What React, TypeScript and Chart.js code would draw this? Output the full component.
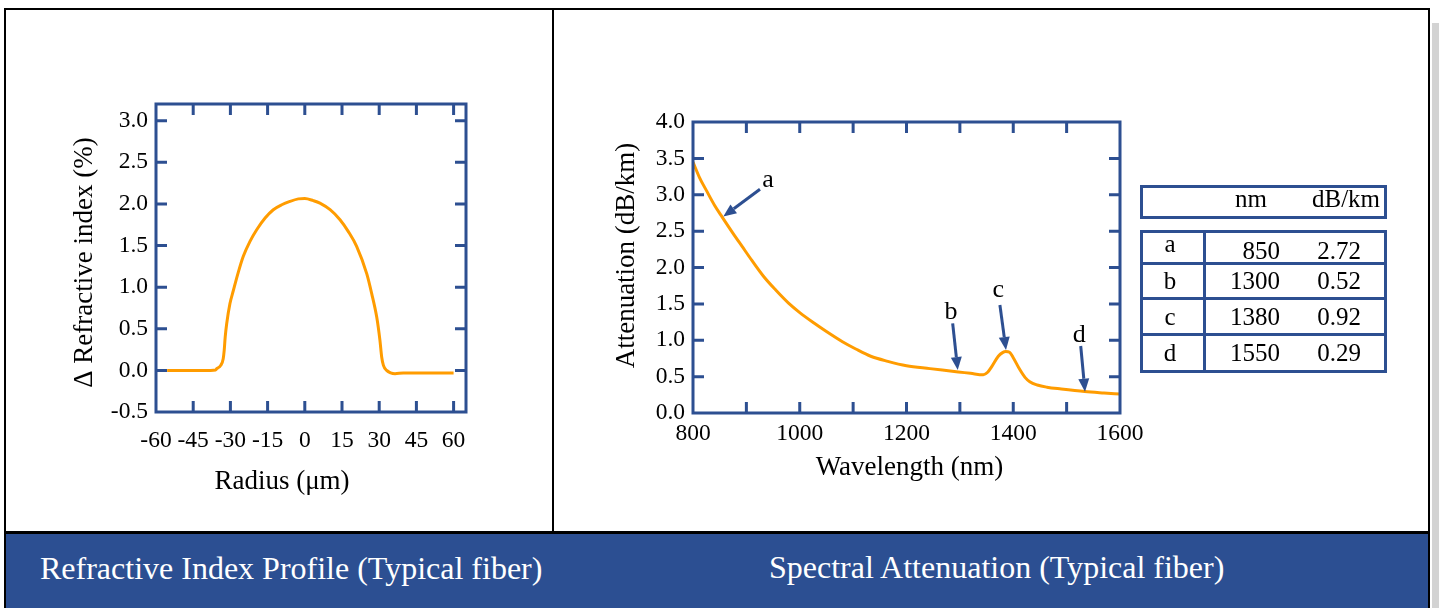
import React, { useEffect, useRef } from 'react';
import { Chart, registerables } from 'chart.js';

Chart.register(...registerables);

const FONT = "'Liberation Serif', 'Times New Roman', Times, serif";
const BLUE = '#2d4f91';
const BAND = '#2c4f92';
const ORANGE = '#ff9c00';
const TICK = 11;
const TICK_FONT = 23.5;

// ---- Refractive index profile ----
const profileRadius = [-55.5, -45, -38, -36, -35.5, -33.9, -32.9, -32.5, -32.1, -31.5, -30.2, -28.8, -26.8, -24.8, -22.1, -19.4, -16, -12.7, -9.3, -6, -2.6, 0, 3.4, 6.1, 10.2, 14.2, 17.5, 20.9, 25, 27, 29, 30.3, 31, 31.7, 33, 34.6, 36.4, 39.7, 45, 60];
const profileDelta = [0, 0, 0, 0.005, 0.02, 0.06, 0.14, 0.24, 0.4, 0.56, 0.8, 0.96, 1.18, 1.37, 1.55, 1.69, 1.83, 1.93, 1.99, 2.03, 2.06, 2.065, 2.04, 2.01, 1.93, 1.81, 1.67, 1.49, 1.16, 0.92, 0.64, 0.36, 0.16, 0.06, 0, -0.03, -0.04, -0.03, -0.03, -0.03];
const radiusTickLabels = [-60, -45, -30, -15, 0, 15, 30, 45, 60];
const radiusMarks = [-45, -30, -15, 0, 15, 30, 45, 60];
const deltaTickLabels = [-0.5, 0, 0.5, 1, 1.5, 2, 2.5, 3];
const deltaMarks = [0, 0.5, 1, 1.5, 2, 2.5, 3];

// ---- Spectral attenuation ----
const wavelengthNm = [800, 812, 825, 840, 855, 875, 892, 910, 932, 955, 979, 1000, 1026, 1050, 1080, 1105, 1133, 1165, 1200, 1244, 1267, 1297, 1320, 1344, 1352, 1360, 1372, 1380, 1386, 1393, 1400, 1412, 1422, 1431, 1445, 1463, 1490, 1534, 1570, 1600];
const attenuationDb = [3.45, 3.24, 3.06, 2.86, 2.69, 2.47, 2.29, 2.1, 1.88, 1.69, 1.51, 1.38, 1.24, 1.12, 0.98, 0.88, 0.78, 0.71, 0.65, 0.61, 0.59, 0.565, 0.545, 0.525, 0.56, 0.64, 0.78, 0.83, 0.845, 0.835, 0.76, 0.6, 0.49, 0.43, 0.385, 0.355, 0.33, 0.295, 0.275, 0.26];
const wavelengthTickLabels = [800, 1000, 1200, 1400, 1600];
const wavelengthMarks = [900, 1000, 1100, 1200, 1300, 1400, 1500];
const attenTickLabels = [0, 0.5, 1, 1.5, 2, 2.5, 3, 3.5, 4];
const attenMarks = [0.5, 1, 1.5, 2, 2.5, 3, 3.5];

// ---- Arrow annotations (data coordinates) ----
const markerKeys = ['a', 'b', 'c', 'd'];
const markerLabelNm = [940.5, 1283.4, 1372, 1523.8];
const markerLabelDb = [3.1, 1.29, 1.6, 0.98];
const arrowTailNm = [925.5, 1286.5, 1375, 1526.4];
const arrowTailDb = [3.075, 1.233, 1.485, 0.921];
const arrowTipNm = [856.8, 1296, 1386.4, 1534.4];
const arrowTipDb = [2.7, 0.59, 0.866, 0.293];

// ---- Table ----
const tableKeys = ['a', 'b', 'c', 'd'];
const tableNm = [850, 1300, 1380, 1550];
const tableDb = [2.72, 0.52, 0.92, 0.29];

type FrameCfg = {
  xMarks: number[]; yMarks: number[];
  xTitle: string; xTitleX: number; xTitleY: number;
  yTitle: string; yTitleX: number; yTitleY: number;
  titleSize: number;
};

function framePlugin(cfg: FrameCfg) {
  return {
    id: 'frame',
    afterDraw(chart: any) {
      const { ctx, chartArea: a, scales } = chart;
      ctx.save();
      ctx.strokeStyle = BLUE;
      ctx.lineWidth = 3;
      ctx.lineCap = 'butt';
      ctx.beginPath();
      for (const v of cfg.xMarks) {
        const px = scales.x.getPixelForValue(v);
        ctx.moveTo(px, a.top); ctx.lineTo(px, a.top + TICK);
        ctx.moveTo(px, a.bottom); ctx.lineTo(px, a.bottom - TICK);
      }
      for (const v of cfg.yMarks) {
        const py = scales.y.getPixelForValue(v);
        ctx.moveTo(a.left, py); ctx.lineTo(a.left + TICK, py);
        ctx.moveTo(a.right, py); ctx.lineTo(a.right - TICK, py);
      }
      ctx.stroke();
      ctx.strokeRect(a.left, a.top, a.right - a.left, a.bottom - a.top);
      ctx.fillStyle = '#000';
      ctx.font = `${cfg.titleSize}px ${FONT}`;
      ctx.textAlign = 'center';
      ctx.textBaseline = 'alphabetic';
      ctx.fillText(cfg.xTitle, cfg.xTitleX, cfg.xTitleY);
      ctx.translate(cfg.yTitleX, cfg.yTitleY);
      ctx.rotate(-Math.PI / 2);
      ctx.fillText(cfg.yTitle, 0, 0);
      ctx.restore();
    },
  };
}

const arrowPlugin = {
  id: 'arrows',
  afterDatasetsDraw(chart: any) {
    const { ctx, scales } = chart;
    const x = scales.x, y = scales.y;
    ctx.save();
    ctx.lineWidth = 3;
    markerKeys.forEach((k, i) => {
      const x0 = x.getPixelForValue(arrowTailNm[i]), y0 = y.getPixelForValue(arrowTailDb[i]);
      const x1 = x.getPixelForValue(arrowTipNm[i]), y1 = y.getPixelForValue(arrowTipDb[i]);
      const ang = Math.atan2(y1 - y0, x1 - x0);
      const hl = 13, hw = 5.5;
      const bx = x1 - hl * Math.cos(ang), by = y1 - hl * Math.sin(ang);
      ctx.strokeStyle = BLUE;
      ctx.fillStyle = BLUE;
      ctx.beginPath(); ctx.moveTo(x0, y0); ctx.lineTo(bx, by); ctx.stroke();
      ctx.beginPath();
      ctx.moveTo(x1, y1);
      ctx.lineTo(bx + hw * Math.sin(ang), by - hw * Math.cos(ang));
      ctx.lineTo(bx - hw * Math.sin(ang), by + hw * Math.cos(ang));
      ctx.closePath(); ctx.fill();
      ctx.fillStyle = '#000';
      ctx.font = `26px ${FONT}`;
      ctx.textAlign = 'center';
      ctx.textBaseline = 'alphabetic';
      ctx.fillText(k, x.getPixelForValue(markerLabelNm[i]), y.getPixelForValue(markerLabelDb[i]));
    });
    ctx.restore();
  },
};

function axisOpts(min: number, max: number, labels: number[], fmt: (v: number) => string, fit: (s: any) => void, padding: number) {
  return {
    type: 'linear' as const,
    min, max,
    afterBuildTicks: (s: any) => { s.ticks = labels.map((v) => ({ value: v })); },
    afterFit: fit,
    grid: { display: false, drawTicks: false, tickLength: 0 },
    border: { display: false },
    ticks: {
      color: '#000',
      font: { family: FONT, size: TICK_FONT },
      padding,
      autoSkip: false,
      maxRotation: 0,
      minRotation: 0,
      callback: (v: any) => fmt(Number(v)),
    },
  };
}

function makeProfileConfig(): any {
  return {
    type: 'line',
    data: {
      datasets: [{
        data: profileRadius.map((r, i) => ({ x: r, y: profileDelta[i] })),
        borderColor: ORANGE, borderWidth: 3, pointRadius: 0,
        cubicInterpolationMode: 'monotone', fill: false,
      }],
    },
    options: {
      responsive: false, animation: false, events: [],
      layout: { padding: { top: 94, right: 86, left: 0, bottom: 0 } },
      plugins: { legend: { display: false }, tooltip: { enabled: false } },
      scales: {
        x: axisOpts(-60, 65, radiusTickLabels, (v) => String(v), (s: any) => { s.height = 118; }, 15),
        y: axisOpts(-0.5, 3.2, deltaTickLabels, (v) => v.toFixed(1), (s: any) => { s.width = 150; }, 8),
      },
    },
    plugins: [framePlugin({
      xMarks: radiusMarks, yMarks: deltaMarks,
      xTitle: 'Radius (μm)', xTitleX: 276, xTitleY: 479,
      yTitle: 'Δ Refractive index (%)', yTitleX: 86, yTitleY: 252.5,
      titleSize: 27,
    })],
  };
}

function makeAttenConfig(): any {
  return {
    type: 'line',
    data: {
      datasets: [{
        data: wavelengthNm.map((w, i) => ({ x: w, y: attenuationDb[i] })),
        borderColor: ORANGE, borderWidth: 3, pointRadius: 0,
        cubicInterpolationMode: 'monotone', fill: false,
      }],
    },
    options: {
      responsive: false, animation: false, events: [],
      layout: { padding: { top: 112, right: 308, left: 0, bottom: 0 } },
      plugins: { legend: { display: false }, tooltip: { enabled: false } },
      scales: {
        x: axisOpts(800, 1600, wavelengthTickLabels, (v) => String(v), (s: any) => { s.height = 117; }, 7),
        y: axisOpts(0, 4, attenTickLabels, (v) => v.toFixed(1), (s: any) => { s.width = 137; }, 8),
      },
    },
    plugins: [arrowPlugin, framePlugin({
      xMarks: wavelengthMarks, yMarks: attenMarks,
      xTitle: 'Wavelength (nm)', xTitleX: 353.5, xTitleY: 465,
      yTitle: 'Attenuation (dB/km)', yTitleX: 78, yTitleY: 245.5,
      titleSize: 27,
    })],
  };
}

function ChartCanvas({ left, top, width, height, make }: { left: number; top: number; width: number; height: number; make: () => any }) {
  const ref = useRef<HTMLCanvasElement>(null);
  useEffect(() => {
    const chart = new Chart(ref.current as HTMLCanvasElement, make());
    return () => chart.destroy();
  }, []);
  return (
    <canvas ref={ref} width={width} height={height}
      style={{ position: 'absolute', left, top, width, height }} />
  );
}

function Txt({ x, base, size, align = 'left', color = '#000', children }: any) {
  const style: any = {
    position: 'absolute', top: base - 0.8375 * size, fontFamily: FONT, fontSize: size,
    lineHeight: `${size}px`, color, whiteSpace: 'nowrap',
  };
  if (align === 'left') style.left = x;
  else if (align === 'center') { style.left = x - 300; style.width = 600; style.textAlign = 'center'; }
  else { style.left = x - 600; style.width = 600; style.textAlign = 'right'; }
  return <div style={style}>{children}</div>;
}

function Box({ left, top, width, height, bg, border }: any) {
  return <div style={{ position: 'absolute', left, top, width, height, background: bg, border, boxSizing: 'border-box' }} />;
}

export default function App() {
  const letterBase = [252, 289, 325, 361];
  const numBase = [259, 289, 325, 361];
  return (
    <div style={{ position: 'absolute', left: 0, top: 0, width: 1439, height: 608, background: '#fff', overflow: 'hidden' }}>
      {/* shadow */}
      <Box left={1432} top={23} width={7} height={585} bg="#d3d3d3" />
      {/* outer frame */}
      <Box left={4} top={8} width={1426} height={620} border="2px solid #000" />
      {/* divider */}
      <Box left={552} top={8} width={2} height={524} bg="#000" />
      {/* band */}
      <Box left={4} top={531} width={1426} height={3} bg="#000" />
      <Box left={6} top={534} width={1422} height={80} bg={BAND} />
      <Txt x={40} base={579} size={32} color="#fff">Refractive Index Profile (Typical fiber)</Txt>
      <Txt x={769} base={578} size={32} color="#fff">Spectral Attenuation (Typical fiber)</Txt>

      <ChartCanvas left={6} top={10} width={546} height={520} make={makeProfileConfig} />
      <ChartCanvas left={556} top={10} width={872} height={520} make={makeAttenConfig} />

      {/* table */}
      <Box left={1140} top={185} width={247} height={34} border={`3px solid ${BLUE}`} />
      <Txt x={1251} base={207} size={25} align="center">nm</Txt>
      <Txt x={1346} base={207} size={25} align="center">dB/km</Txt>
      <Box left={1140} top={230} width={247} height={143} border={`3px solid ${BLUE}`} />
      <Box left={1140} top={262} width={247} height={3} bg={BLUE} />
      <Box left={1140} top={297} width={247} height={3} bg={BLUE} />
      <Box left={1140} top={333} width={247} height={3} bg={BLUE} />
      <Box left={1203} top={230} width={3} height={143} bg={BLUE} />
      {tableKeys.map((k, i) => (
        <React.Fragment key={k}>
          <Txt x={1170} base={letterBase[i]} size={25} align="center">{k}</Txt>
          <Txt x={1280} base={numBase[i]} size={25} align="right">{String(tableNm[i])}</Txt>
          <Txt x={1361} base={numBase[i]} size={25} align="right">{tableDb[i].toFixed(2)}</Txt>
        </React.Fragment>
      ))}
    </div>
  );
}
